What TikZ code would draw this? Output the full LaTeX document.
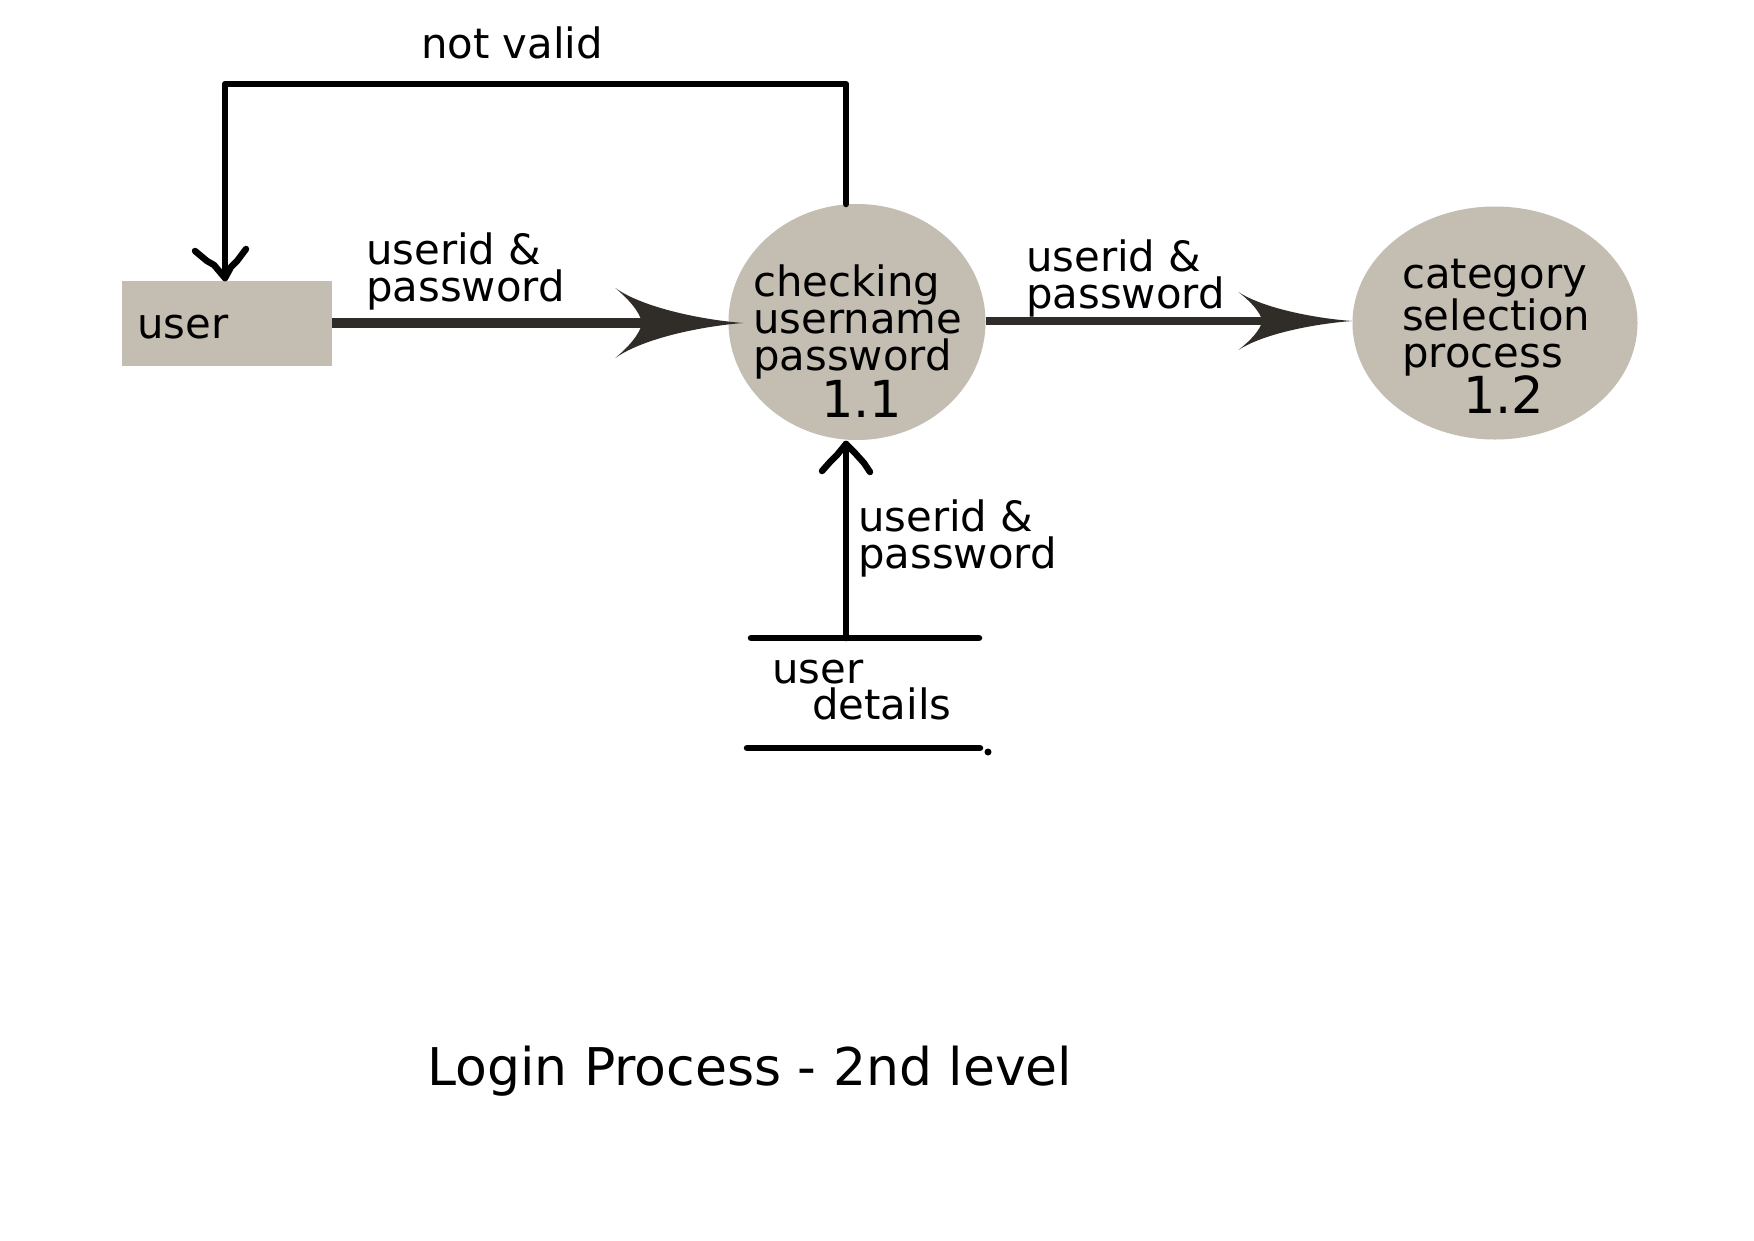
\documentclass[tikz,border=0pt]{standalone}
\usepackage{fontspec}
\setmainfont{DejaVu Sans}
\usetikzlibrary{shapes.geometric,calc}
\definecolor{procfill}{RGB}{195,189,178}
\definecolor{flowc}{RGB}{48,44,40}
\begin{document}
\begin{tikzpicture}[x=1pt,y=-1pt,
  txt/.style={inner sep=0pt, anchor=base west, align=left, font=\fontsize{41.8}{37}\selectfont},
  bignum/.style={inner sep=0pt, anchor=base west, font=\fontsize{51}{60}\selectfont},
  procnode/.style={ellipse, fill=procfill, draw=none, inner sep=0pt},
  entity/.style={rectangle, fill=procfill, draw=none, inner sep=0pt, minimum width=210pt, minimum height=85pt},
  thinline/.style={line width=6.5pt, line cap=round, line join=round, black},
  swoop/.pic={\fill[flowc] (0,0) .. controls (-40,-3) and (-100,-15) .. (-128,-35)
      .. controls (-115,-24) and (-104,-12) .. (-101,0)
      .. controls (-104,12) and (-115,24) .. (-128,35)
      .. controls (-100,15) and (-40,3) .. (0,0) -- cycle;}
]
\useasboundingbox[fill=white] (0,0) rectangle (1754,1240);

% nodes
\node[entity] (user) at (227,323.5) {};
\node[procnode, minimum width=257pt, minimum height=236pt] (c1) at (857,322) {};
\node[procnode, minimum width=285pt, minimum height=233pt] (c2) at (1495,323) {};

% node texts (base = last line)
\node[txt] (usertxt) at (137,338) {user};
\node[txt] (c1txt) at (753,370) {checking\\username\\password};
\node[bignum] (c1num) at (821,417) {1.1};
\node[txt] (c2txt) at (1402,367) {category\\selection\\process};
\node[bignum] (c2num) at (1463,413) {1.2};

% data store
\coordinate (stTL) at (751,638);
\coordinate (stTR) at (979,638);
\coordinate (stBL) at (747,748);
\coordinate (stBR) at (980,748);
\draw[thinline] (stTL) -- (stTR);
\draw[thinline] (stBL) -- (stBR);
\fill (988,752) circle (3.5pt);
\node[txt] (sttxt1) at (772,683) {user};
\node[txt] (sttxt2) at (812,719) {details};

% flow user -> c1
\coordinate (h1) at ($(c1.west |- 0,323)+(15,0)$);
\draw[flowc, line width=10pt] (user.east |- 0,323) -- ($(h1)+(-98,0)$);
\pic at (h1) {swoop};
\node[txt] (l1) at (366,301) {userid \&\\password};

% flow c1 -> c2
\coordinate (h2) at (c2.west |- 0,321);
\draw[flowc, line width=8pt] (c1.east |- 0,321) -- ($(h2)+(-88,0)$);
\pic[xscale=0.89, yscale=0.83] at (h2) {swoop};
\node[txt] (l2) at (1026,308) {userid \&\\password};

% flow store -> c1
\coordinate (s1) at (846,638);
\coordinate (t1) at (846,444);
\draw[thinline] (s1) -- (t1);
\draw[thinline] (822,471) -- (830,462) -- (837,455) -- (t1);
\draw[thinline] (870,472) -- (864,463) -- (855,453) -- (t1);
\node[txt] (l3) at (858,568) {userid \&\\password};

% feedback c1 -> user
\coordinate (f0) at (846,204);
\coordinate (f1) at (846,84);
\coordinate (f2) at (225,84);
\coordinate (f3) at (225,278);
\draw[thinline] (f0) -- (f1) -- (f2) -- (f3);
\draw[thinline] (195,251) -- (207,261) -- (214,265) -- (f3);
\draw[thinline] (246,249) -- (237,261) -- (231,267) -- (f3);
\node[txt] (nv) at (421,58) {not valid};

% title
\node[inner sep=0pt, anchor=base west, font=\fontsize{52}{60}\selectfont] (title) at (427,1085) {Login Process - 2nd level};
\end{tikzpicture}
\end{document}
